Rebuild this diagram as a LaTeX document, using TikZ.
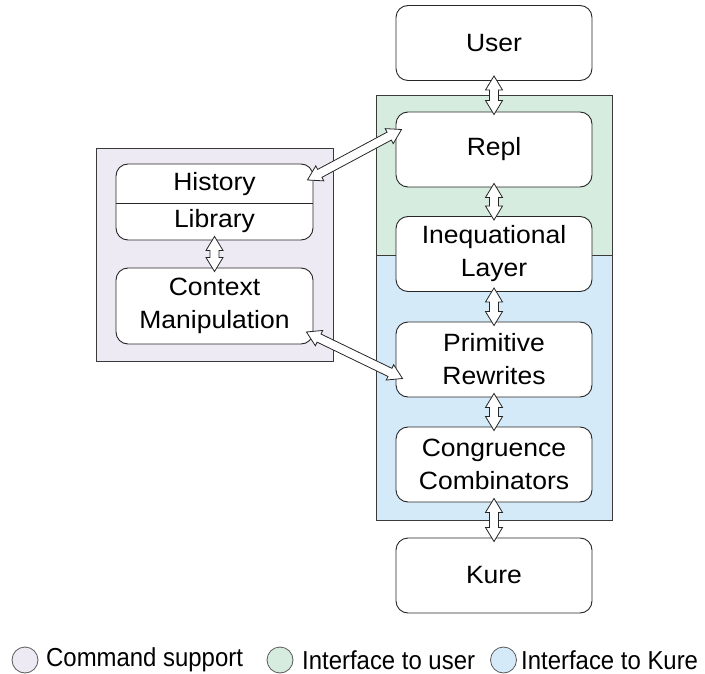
\documentclass[tikz,border=0pt]{standalone}
\usepackage{fontspec}
\setmainfont{Liberation Sans}
\newfontfamily\boxfont[FakeStretch=1.06]{Liberation Sans}
\newfontfamily\keyfont[FakeStretch=0.92]{Liberation Sans}
\usetikzlibrary{calc}

\definecolor{cmdfill}{HTML}{EEEAF3}
\definecolor{userfill}{HTML}{D5ECDE}
\definecolor{kurefill}{HTML}{D4EAF8}
\definecolor{edge}{HTML}{3A3A3A}

\tikzset{
  box/.style={draw=black!85, fill=white, line width=0.9pt, rounded corners=12pt,
    minimum width=196pt, minimum height=75pt, align=center, inner sep=0pt,
    font=\boxfont\fontsize{25}{33}\selectfont},
  label/.style={inner sep=0pt, font=\boxfont\fontsize{25}{33}\selectfont},
  region/.style={draw=edge, line width=0.8pt},
  legendtext/.style={anchor=west, inner sep=0pt, font=\keyfont\fontsize{26}{30}\selectfont},
  legenddot/.style={circle, draw=black!65, line width=0.8pt, minimum size=26pt, inner sep=0pt},
  % hollow double-headed block arrow between two points
  blockarrow/.style={draw=black!85, fill=white, line width=0.8pt, line join=miter,
    to path={
      -- ($(\tikztostart)!14pt!(\tikztotarget)!8.5pt!90:(\tikztotarget)$)
      -- ($(\tikztostart)!14pt!(\tikztotarget)!4.5pt!90:(\tikztotarget)$)
      -- ($(\tikztotarget)!14pt!(\tikztostart)!4.5pt!-90:(\tikztostart)$)
      -- ($(\tikztotarget)!14pt!(\tikztostart)!8.5pt!-90:(\tikztostart)$)
      -- (\tikztotarget)
      -- ($(\tikztotarget)!14pt!(\tikztostart)!8.5pt!90:(\tikztostart)$)
      -- ($(\tikztotarget)!14pt!(\tikztostart)!4.5pt!90:(\tikztostart)$)
      -- ($(\tikztostart)!14pt!(\tikztotarget)!4.5pt!-90:(\tikztotarget)$)
      -- ($(\tikztostart)!14pt!(\tikztotarget)!8.5pt!-90:(\tikztotarget)$)
      -- cycle}}
}

\begin{document}
\begin{tikzpicture}[x=1pt, y=-1pt]
  \useasboundingbox (0,0) rectangle (705,674);

  % background regions
  \fill[userfill] (376,95) rectangle (612,255);
  \fill[kurefill] (376,255) rectangle (612,520);
  \draw[region] (376,95) rectangle (612,520);
  \draw[region] (376,255) -- (612,255);
  \draw[region, fill=cmdfill] (96,148) rectangle (333,361);

  % layer stack
  \node[box] (user) at (494,43)    {User};
  \node[box] (repl) at (494,149.5) {Repl};
  \node[box] (ineq) at (494,254)   {Inequational\\Layer};
  \node[box] (prim) at (494,359.5) {Primitive\\Rewrites};
  \node[box] (cong) at (494,464.5) {Congruence\\Combinators};
  \node[box] (kure) at (494,575.5) {Kure};

  % command support
  \node[box, minimum width=197pt, minimum height=76pt] (hist) at (214.5,202) {};
  \node[label] (histtext) at (214.5,184) {History};
  \node[label] (libtext) at (214.5,221.5) {Library};
  \draw[black!85, line width=0.9pt] (hist.west |- 0,203) -- (hist.east |- 0,203);
  \node[box, minimum width=197pt, minimum height=76pt] (ctx) at (214.5,306) {Context\\Manipulation};

  % arrow end points
  \coordinate (userS) at ([yshift=5pt]user.south);
  \coordinate (replN) at ([yshift=-3pt]repl.north);
  \coordinate (replS) at ([yshift=4pt]repl.south);
  \coordinate (ineqN) at ([yshift=-4pt]ineq.north);
  \coordinate (ineqS) at ([yshift=4pt]ineq.south);
  \coordinate (primN) at ([yshift=-4pt]prim.north);
  \coordinate (primS) at ([yshift=4pt]prim.south);
  \coordinate (congN) at ([yshift=-4pt]cong.north);
  \coordinate (congS) at ([yshift=4pt]cong.south);
  \coordinate (kureN) at ([yshift=-4pt]kure.north);
  \coordinate (histS) at ([yshift=4pt]hist.south);
  \coordinate (ctxN)  at ([yshift=-4pt]ctx.north);
  \coordinate (histE) at ($(hist.east)+(-6,-22)$);
  \coordinate (replW) at ($(repl.west)+(6,-20)$);
  \coordinate (ctxE)  at ($(ctx.east)+(-7,26)$);
  \coordinate (primW) at ($(prim.west)+(7,19)$);

  % connectors
  \draw[blockarrow] (userS) to (replN);
  \draw[blockarrow] (replS) to (ineqN);
  \draw[blockarrow] (ineqS) to (primN);
  \draw[blockarrow] (primS) to (congN);
  \draw[blockarrow] (congS) to (kureN);
  \draw[blockarrow] (histS) to (ctxN);
  \draw[blockarrow] (histE) to (replW);
  \draw[blockarrow] (ctxE) to (primW);

  % legend
  \node[legenddot, fill=cmdfill] (lg1) at (25,660) {};
  \node[legendtext] (lt1) at (46,660) {Command support};
  \node[legenddot, fill=userfill] (lg2) at (280,660) {};
  \node[legendtext] (lt2) at (302,660) {Interface to user};
  \node[legenddot, fill=kurefill] (lg3) at (503.5,660) {};
  \node[legendtext] (lt3) at (521,660) {Interface to Kure};
\end{tikzpicture}
\end{document}
